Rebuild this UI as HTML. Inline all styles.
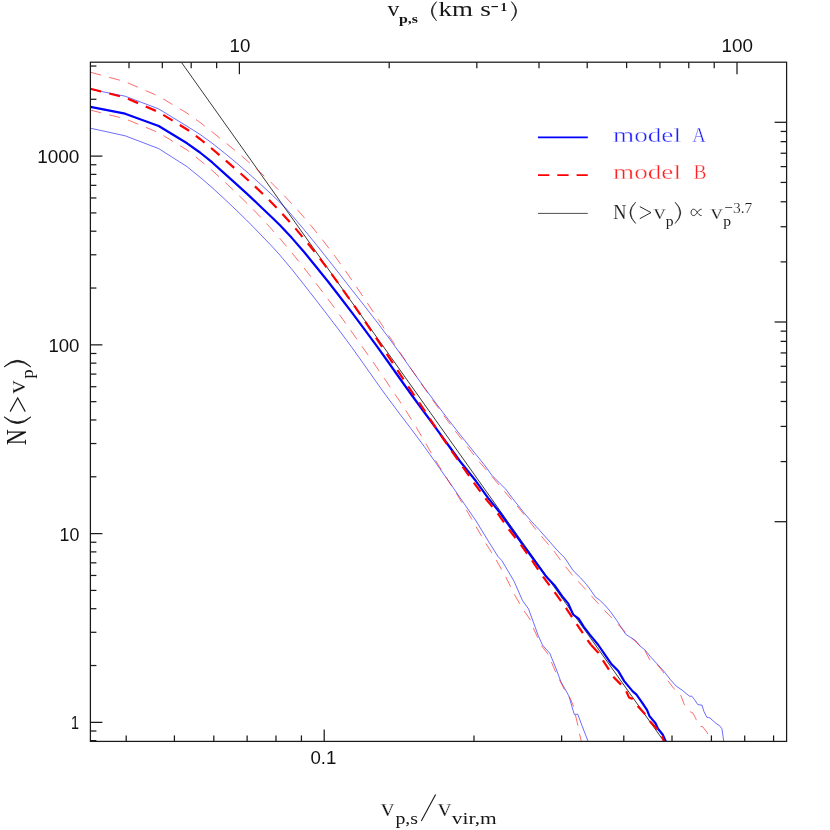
<!DOCTYPE html>
<html lang="en">
<head>
<meta charset="utf-8">
<title>N(&gt;v_p) velocity function</title>
<style>
html,body{margin:0;padding:0;background:#fff;}
body{width:830px;height:830px;overflow:hidden;font-family:"Liberation Sans",sans-serif;}
svg text{white-space:pre;}
svg{will-change:transform;}
</style>
</head>
<body>
<svg width="830" height="830" viewBox="0 0 830 830" style="display:block">
<clipPath id="c"><rect x="90.4" y="62.2" width="696.20" height="679.20"/></clipPath>
<g clip-path="url(#c)">
<line x1="181.30" y1="62.20" x2="663.80" y2="741.20" stroke="#222" stroke-width="0.9" />
<polyline points="90.4,128.2 125.1,135.8 158.7,148.6 187.1,166.7 200.0,177.2 212.0,187.5 224.1,198.6 236.1,210.0 246.4,220.0 254.2,227.9 272.3,246.7 280.0,255.2 292.0,269.5 304.1,284.8 316.1,300.2 324.0,310.4 340.0,331.4 352.0,347.6 364.1,364.6 376.1,381.7 385.2,394.4 400.0,414.3 412.0,430.0 424.1,446.3 436.1,463.2 440.0,468.8 452.0,486.0 464.1,503.6 476.1,521.0 488.2,540.9 497.8,556.2 502.0,560.8 514.1,581.3 522.5,600.6 528.6,609.0 533.4,622.3 538.2,635.5 542.6,645.2 549.8,653.3 556.1,668.7 560.7,681.3 568.8,695.8 570.0,699.8 574.2,714.3 577.8,714.3 582.0,725.7 588.1,741.4" fill="none" stroke="#0000ff" stroke-width="0.58" stroke-linejoin="round" />
<polyline points="90.4,89.3 125.1,96.2 158.7,108.9 187.1,126.3 200.0,134.4 212.0,143.1 224.1,152.7 236.1,162.6 248.2,173.1 260.2,183.9 272.3,195.1 284.3,206.7 287.8,210.4 304.1,229.7 316.1,244.4 328.2,259.6 340.2,274.9 352.3,290.4 364.1,305.4 376.1,320.9 388.2,337.0 400.2,353.6 412.3,370.7 424.2,387.4 436.1,403.5 448.2,419.4 460.2,434.8 472.3,449.9 484.2,464.6 491.8,475.2 500.2,483.7 505.7,489.1 512.3,498.1 524.3,513.2 531.6,521.6 540.0,530.7 550.4,542.5 556.9,550.0 564.7,557.8 573.1,570.5 580.4,577.7 586.5,584.5 590.0,589.2 595.5,597.2 599.5,600.0 604.6,604.8 610.4,611.5 617.6,621.7 625.7,634.3 635.7,640.7 640.0,646.0 644.8,649.8 650.2,656.4 656.9,663.7 664.1,671.5 670.1,679.3 676.1,686.0 682.2,690.2 689.4,696.2 691.8,696.2 694.2,699.2 697.8,704.6 702.0,705.2 703.9,711.3 706.9,717.3 709.9,717.9 715.9,723.3 719.5,725.7 721.9,728.7 723.1,736.6 723.7,741.4" fill="none" stroke="#0000ff" stroke-width="0.58" stroke-linejoin="round" />
<polyline points="90.4,110.1 125.1,118.8 158.7,132.7 187.1,150.0 200.0,160.4 210.8,169.2 225.1,182.3 239.2,195.7 253.0,209.3 260.8,217.4 272.3,229.9 280.0,238.6 291.8,252.7 304.1,268.0 315.9,283.2 327.6,298.6 334.2,307.4 340.0,315.4 350.6,330.3 361.7,346.0 373.1,362.1 384.3,378.4 394.2,393.2 400.0,401.7 406.0,410.8 416.3,427.3 425.5,443.1 435.2,459.8 440.0,467.7 446.0,477.2 456.3,493.3 466.3,509.8 475.9,526.4 485.8,543.3 490.0,550.0 496.3,560.2 505.7,576.7 514.1,594.0 524.0,610.8 530.4,619.9 533.1,627.7 537.6,637.3 541.2,645.2 548.0,654.2 555.8,672.3 565.2,691.3 570.0,698.0 573.6,706.4 575.4,714.9 577.8,725.1 579.4,733.6 581.4,741.4" fill="none" stroke="#ff0000" stroke-width="0.58" stroke-dasharray="11.05 8.38" stroke-linejoin="round" />
<polyline points="90.4,72.2 125.1,81.7 158.7,96.2 187.1,113.2 200.0,122.4 211.1,131.1 226.3,143.3 241.2,155.6 256.0,168.5 270.5,181.9 284.1,195.5 297.5,209.9 310.1,224.5 322.2,239.5 334.2,255.2 345.4,270.8 356.1,286.3 367.3,302.9 378.3,319.5 388.4,334.9 399.3,351.4 410.1,367.4 421.2,383.6 431.9,398.9 443.6,415.3 454.8,430.4 466.9,446.0 478.9,461.3 491.6,476.1 504.5,491.5 517.1,506.0 529.2,521.0 535.8,529.5 553.9,551.0 560.1,559.6 565.3,566.3 571.9,574.7 578.0,581.1 585.4,589.2 595.0,600.0 604.6,610.6 610.4,616.3 623.9,630.7 639.3,645.2 644.8,650.4" fill="none" stroke="#ff0000" stroke-width="0.58" stroke-dasharray="11.05 8.38" stroke-linejoin="round" />
<polyline points="644.8,650.4 649.6,659.5 656.9,664.3 662.9,671.5 667.1,679.7 673.7,688.4 680.4,694.2 684.0,704.0 688.8,711.0 693.0,713.1 695.7,718.5 699.0,726.3 702.7,726.7 706.9,732.3 711.1,741.4" fill="none" stroke="#ff0000" stroke-width="0.58" stroke-dasharray="11.05 8.38" stroke-linejoin="round" />
<polyline points="90.4,106.9 125.1,113.7 158.7,126.0 187.1,143.3 200.0,152.5 212.0,162.2 224.1,173.1 236.1,183.9 248.2,194.9 260.2,206.2 272.3,217.7 280.0,225.3 292.0,238.1 304.1,252.0 316.1,266.7 328.2,281.8 340.2,297.2 352.0,312.6 364.1,328.8 376.1,345.2 388.2,362.0 400.2,379.0 412.0,395.5 424.1,412.0 436.1,428.4 448.2,445.0 460.2,461.5 476.1,481.3 488.2,498.1 500.2,513.0 512.3,530.1 524.3,546.9 526.7,550.0 538.2,565.7 546.6,577.1 555.1,586.1 562.3,596.4 568.3,603.6 573.1,614.5 578.6,618.7 584.0,627.1 590.0,634.9 598.3,645.0 604.9,654.6 611.6,664.3 618.2,670.9 624.2,681.1 632.7,691.4 636.3,694.4 642.3,702.8 647.1,710.1 649.5,716.1 655.5,723.3 658.0,728.7 662.8,734.8 665.8,741.4" fill="none" stroke="#0000ff" stroke-width="2.2" stroke-linejoin="round" />
<polyline points="90.4,88.8 125.1,97.5 158.7,112.1 187.1,129.5 200.0,139.0 211.1,148.0 225.9,160.7 240.7,173.5 255.2,186.6 269.3,200.2 282.9,214.4 295.4,228.4 308.0,243.5 320.0,258.7 331.6,274.1 342.9,289.7 354.2,305.7 365.3,321.8 376.1,337.8 386.7,353.9 397.2,369.9 408.2,386.4 419.3,402.9 429.9,418.8 440.4,434.6 451.2,450.4 462.8,466.8 474.0,482.8 485.5,498.5 497.6,513.2 508.9,529.5 520.7,544.5 532.0,560.4 543.0,576.7 554.5,591.9 565.9,607.8 576.7,624.1 587.3,639.8 591.1,645.0" fill="none" stroke="#ff0000" stroke-width="2.2" stroke-dasharray="11.05 8.38" stroke-linejoin="round" />
<polyline points="591.1,645.0 598.3,652.8 603.1,660.7 608.6,669.1 613.1,676.6 621.2,684.8 626.6,692.0 629.0,697.4 632.7,699.0 638.1,706.4 645.3,714.3 650.1,721.5 657.3,729.3 662.2,736.6 664.0,741.4" fill="none" stroke="#ff0000" stroke-width="2.2" stroke-dasharray="11.05 8.38" stroke-linejoin="round" />
</g>
<rect x="90.4" y="62.2" width="696.20" height="679.20" fill="none" stroke="#1a1a1a" stroke-width="1.25"/>
<line x1="129.01" y1="62.20" x2="129.01" y2="68.20" stroke="#1a1a1a" stroke-width="1.25" />
<line x1="162.32" y1="62.20" x2="162.32" y2="68.20" stroke="#1a1a1a" stroke-width="1.25" />
<line x1="191.18" y1="62.20" x2="191.18" y2="68.20" stroke="#1a1a1a" stroke-width="1.25" />
<line x1="216.63" y1="62.20" x2="216.63" y2="68.20" stroke="#1a1a1a" stroke-width="1.25" />
<line x1="239.40" y1="62.20" x2="239.40" y2="74.20" stroke="#1a1a1a" stroke-width="1.25" />
<line x1="389.19" y1="62.20" x2="389.19" y2="68.20" stroke="#1a1a1a" stroke-width="1.25" />
<line x1="476.82" y1="62.20" x2="476.82" y2="68.20" stroke="#1a1a1a" stroke-width="1.25" />
<line x1="538.99" y1="62.20" x2="538.99" y2="68.20" stroke="#1a1a1a" stroke-width="1.25" />
<line x1="587.21" y1="62.20" x2="587.21" y2="68.20" stroke="#1a1a1a" stroke-width="1.25" />
<line x1="626.61" y1="62.20" x2="626.61" y2="68.20" stroke="#1a1a1a" stroke-width="1.25" />
<line x1="659.92" y1="62.20" x2="659.92" y2="68.20" stroke="#1a1a1a" stroke-width="1.25" />
<line x1="688.78" y1="62.20" x2="688.78" y2="68.20" stroke="#1a1a1a" stroke-width="1.25" />
<line x1="714.23" y1="62.20" x2="714.23" y2="68.20" stroke="#1a1a1a" stroke-width="1.25" />
<line x1="737.00" y1="62.20" x2="737.00" y2="74.20" stroke="#1a1a1a" stroke-width="1.25" />
<line x1="126.19" y1="741.40" x2="126.19" y2="735.40" stroke="#1a1a1a" stroke-width="1.25" />
<line x1="174.41" y1="741.40" x2="174.41" y2="735.40" stroke="#1a1a1a" stroke-width="1.25" />
<line x1="213.81" y1="741.40" x2="213.81" y2="735.40" stroke="#1a1a1a" stroke-width="1.25" />
<line x1="247.12" y1="741.40" x2="247.12" y2="735.40" stroke="#1a1a1a" stroke-width="1.25" />
<line x1="275.98" y1="741.40" x2="275.98" y2="735.40" stroke="#1a1a1a" stroke-width="1.25" />
<line x1="301.43" y1="741.40" x2="301.43" y2="735.40" stroke="#1a1a1a" stroke-width="1.25" />
<line x1="324.20" y1="741.40" x2="324.20" y2="729.40" stroke="#1a1a1a" stroke-width="1.25" />
<line x1="473.99" y1="741.40" x2="473.99" y2="735.40" stroke="#1a1a1a" stroke-width="1.25" />
<line x1="561.62" y1="741.40" x2="561.62" y2="735.40" stroke="#1a1a1a" stroke-width="1.25" />
<line x1="623.79" y1="741.40" x2="623.79" y2="735.40" stroke="#1a1a1a" stroke-width="1.25" />
<line x1="672.01" y1="741.40" x2="672.01" y2="735.40" stroke="#1a1a1a" stroke-width="1.25" />
<line x1="711.41" y1="741.40" x2="711.41" y2="735.40" stroke="#1a1a1a" stroke-width="1.25" />
<line x1="744.72" y1="741.40" x2="744.72" y2="735.40" stroke="#1a1a1a" stroke-width="1.25" />
<line x1="773.58" y1="741.40" x2="773.58" y2="735.40" stroke="#1a1a1a" stroke-width="1.25" />
<line x1="90.40" y1="740.64" x2="96.40" y2="740.64" stroke="#1a1a1a" stroke-width="1.25" />
<line x1="90.40" y1="730.99" x2="96.40" y2="730.99" stroke="#1a1a1a" stroke-width="1.25" />
<line x1="90.40" y1="722.35" x2="102.40" y2="722.35" stroke="#1a1a1a" stroke-width="1.25" />
<line x1="90.40" y1="665.53" x2="96.40" y2="665.53" stroke="#1a1a1a" stroke-width="1.25" />
<line x1="90.40" y1="632.29" x2="96.40" y2="632.29" stroke="#1a1a1a" stroke-width="1.25" />
<line x1="90.40" y1="608.71" x2="96.40" y2="608.71" stroke="#1a1a1a" stroke-width="1.25" />
<line x1="90.40" y1="590.42" x2="96.40" y2="590.42" stroke="#1a1a1a" stroke-width="1.25" />
<line x1="90.40" y1="575.47" x2="96.40" y2="575.47" stroke="#1a1a1a" stroke-width="1.25" />
<line x1="90.40" y1="562.84" x2="96.40" y2="562.84" stroke="#1a1a1a" stroke-width="1.25" />
<line x1="90.40" y1="551.89" x2="96.40" y2="551.89" stroke="#1a1a1a" stroke-width="1.25" />
<line x1="90.40" y1="542.24" x2="96.40" y2="542.24" stroke="#1a1a1a" stroke-width="1.25" />
<line x1="90.40" y1="533.60" x2="102.40" y2="533.60" stroke="#1a1a1a" stroke-width="1.25" />
<line x1="90.40" y1="476.78" x2="96.40" y2="476.78" stroke="#1a1a1a" stroke-width="1.25" />
<line x1="90.40" y1="443.54" x2="96.40" y2="443.54" stroke="#1a1a1a" stroke-width="1.25" />
<line x1="90.40" y1="419.96" x2="96.40" y2="419.96" stroke="#1a1a1a" stroke-width="1.25" />
<line x1="90.40" y1="401.67" x2="96.40" y2="401.67" stroke="#1a1a1a" stroke-width="1.25" />
<line x1="90.40" y1="386.72" x2="96.40" y2="386.72" stroke="#1a1a1a" stroke-width="1.25" />
<line x1="90.40" y1="374.09" x2="96.40" y2="374.09" stroke="#1a1a1a" stroke-width="1.25" />
<line x1="90.40" y1="363.14" x2="96.40" y2="363.14" stroke="#1a1a1a" stroke-width="1.25" />
<line x1="90.40" y1="353.49" x2="96.40" y2="353.49" stroke="#1a1a1a" stroke-width="1.25" />
<line x1="90.40" y1="344.85" x2="102.40" y2="344.85" stroke="#1a1a1a" stroke-width="1.25" />
<line x1="90.40" y1="288.03" x2="96.40" y2="288.03" stroke="#1a1a1a" stroke-width="1.25" />
<line x1="90.40" y1="254.79" x2="96.40" y2="254.79" stroke="#1a1a1a" stroke-width="1.25" />
<line x1="90.40" y1="231.21" x2="96.40" y2="231.21" stroke="#1a1a1a" stroke-width="1.25" />
<line x1="90.40" y1="212.92" x2="96.40" y2="212.92" stroke="#1a1a1a" stroke-width="1.25" />
<line x1="90.40" y1="197.97" x2="96.40" y2="197.97" stroke="#1a1a1a" stroke-width="1.25" />
<line x1="90.40" y1="185.34" x2="96.40" y2="185.34" stroke="#1a1a1a" stroke-width="1.25" />
<line x1="90.40" y1="174.39" x2="96.40" y2="174.39" stroke="#1a1a1a" stroke-width="1.25" />
<line x1="90.40" y1="164.74" x2="96.40" y2="164.74" stroke="#1a1a1a" stroke-width="1.25" />
<line x1="90.40" y1="156.10" x2="102.40" y2="156.10" stroke="#1a1a1a" stroke-width="1.25" />
<line x1="90.40" y1="99.28" x2="96.40" y2="99.28" stroke="#1a1a1a" stroke-width="1.25" />
<line x1="90.40" y1="66.04" x2="96.40" y2="66.04" stroke="#1a1a1a" stroke-width="1.25" />
<line x1="786.60" y1="521.70" x2="774.60" y2="521.70" stroke="#1a1a1a" stroke-width="1.25" />
<line x1="786.60" y1="461.58" x2="780.60" y2="461.58" stroke="#1a1a1a" stroke-width="1.25" />
<line x1="786.60" y1="426.42" x2="780.60" y2="426.42" stroke="#1a1a1a" stroke-width="1.25" />
<line x1="786.60" y1="401.47" x2="780.60" y2="401.47" stroke="#1a1a1a" stroke-width="1.25" />
<line x1="786.60" y1="382.12" x2="780.60" y2="382.12" stroke="#1a1a1a" stroke-width="1.25" />
<line x1="786.60" y1="366.30" x2="780.60" y2="366.30" stroke="#1a1a1a" stroke-width="1.25" />
<line x1="786.60" y1="352.93" x2="780.60" y2="352.93" stroke="#1a1a1a" stroke-width="1.25" />
<line x1="786.60" y1="341.35" x2="780.60" y2="341.35" stroke="#1a1a1a" stroke-width="1.25" />
<line x1="786.60" y1="331.14" x2="780.60" y2="331.14" stroke="#1a1a1a" stroke-width="1.25" />
<line x1="786.60" y1="322.00" x2="774.60" y2="322.00" stroke="#1a1a1a" stroke-width="1.25" />
<line x1="786.60" y1="261.88" x2="780.60" y2="261.88" stroke="#1a1a1a" stroke-width="1.25" />
<line x1="786.60" y1="226.72" x2="780.60" y2="226.72" stroke="#1a1a1a" stroke-width="1.25" />
<line x1="786.60" y1="201.77" x2="780.60" y2="201.77" stroke="#1a1a1a" stroke-width="1.25" />
<line x1="786.60" y1="182.42" x2="780.60" y2="182.42" stroke="#1a1a1a" stroke-width="1.25" />
<line x1="786.60" y1="166.60" x2="780.60" y2="166.60" stroke="#1a1a1a" stroke-width="1.25" />
<line x1="786.60" y1="153.23" x2="780.60" y2="153.23" stroke="#1a1a1a" stroke-width="1.25" />
<line x1="786.60" y1="141.65" x2="780.60" y2="141.65" stroke="#1a1a1a" stroke-width="1.25" />
<line x1="786.60" y1="131.44" x2="780.60" y2="131.44" stroke="#1a1a1a" stroke-width="1.25" />
<line x1="786.60" y1="122.30" x2="774.60" y2="122.30" stroke="#1a1a1a" stroke-width="1.25" />
<text x="37.20" y="163.00" font-family="'Liberation Sans', serif" font-size="17.6" fill="#111" text-anchor="start" font-weight="normal" textLength="42.20" lengthAdjust="spacingAndGlyphs" >1000</text>
<text x="48.40" y="352.00" font-family="'Liberation Sans', serif" font-size="17.6" fill="#111" text-anchor="start" font-weight="normal" textLength="31.00" lengthAdjust="spacingAndGlyphs" >100</text>
<text x="59.60" y="540.80" font-family="'Liberation Sans', serif" font-size="17.6" fill="#111" text-anchor="start" font-weight="normal" textLength="19.80" lengthAdjust="spacingAndGlyphs" >10</text>
<text x="70.90" y="729.40" font-family="'Liberation Sans', serif" font-size="17.6" fill="#111" text-anchor="start" font-weight="normal" textLength="8.00" lengthAdjust="spacingAndGlyphs" >1</text>
<text x="229.60" y="52.20" font-family="'Liberation Sans', serif" font-size="17.6" fill="#111" text-anchor="start" font-weight="normal" textLength="20.80" lengthAdjust="spacingAndGlyphs" >10</text>
<text x="721.60" y="52.00" font-family="'Liberation Sans', serif" font-size="17.6" fill="#111" text-anchor="start" font-weight="normal" textLength="31.40" lengthAdjust="spacingAndGlyphs" >100</text>
<text x="310.40" y="764.20" font-family="'Liberation Sans', serif" font-size="17.6" fill="#111" text-anchor="start" font-weight="normal" textLength="26.00" lengthAdjust="spacingAndGlyphs" >0.1</text>
<line x1="538.00" y1="137.35" x2="587.80" y2="137.35" stroke="#0000ff" stroke-width="1.75" />
<line x1="538.00" y1="175.00" x2="587.80" y2="175.00" stroke="#ff0000" stroke-width="1.75" stroke-dasharray="11.3 8"/>
<line x1="538.00" y1="213.40" x2="587.80" y2="213.40" stroke="#3a3a3a" stroke-width="0.9" />
<text x="613.00" y="142.00" font-family="'Liberation Serif', serif" font-size="21.8" fill="#2020ff" text-anchor="start" font-weight="normal" textLength="68.00" lengthAdjust="spacingAndGlyphs"  stroke="#fff" stroke-width="0.38">model</text>
<text x="692.20" y="142.00" font-family="'Liberation Serif', serif" font-size="21.8" fill="#2020ff" text-anchor="start" font-weight="normal" textLength="13.60" lengthAdjust="spacingAndGlyphs"  stroke="#fff" stroke-width="0.38">A</text>
<text x="613.00" y="179.30" font-family="'Liberation Serif', serif" font-size="21.8" fill="#ff2020" text-anchor="start" font-weight="normal" textLength="68.00" lengthAdjust="spacingAndGlyphs"  stroke="#fff" stroke-width="0.38">model</text>
<text x="693.60" y="179.30" font-family="'Liberation Serif', serif" font-size="21.8" fill="#ff2020" text-anchor="start" font-weight="normal" textLength="13.00" lengthAdjust="spacingAndGlyphs"  stroke="#fff" stroke-width="0.38">B</text>
<text x="613.20" y="218.90" font-family="'Liberation Serif', serif" font-size="21.8" fill="#1c1c1c" text-anchor="start" font-weight="normal" textLength="13.20" lengthAdjust="spacingAndGlyphs"  stroke="#fff" stroke-width="0.15">N</text>
<path d="M635.70,202.10 Q624.10,212.80 635.70,223.50 Q625.90,212.80 635.70,202.10 Z" fill="#1c1c1c" stroke="#1c1c1c" stroke-width="0.52" stroke-linejoin="round"/>
<path d="M639.8,206.6 L651.0,212.6 L639.8,218.7" fill="none" stroke="#1c1c1c" stroke-width="0.95"/>
<text x="653.60" y="218.90" font-family="'Liberation Serif', serif" font-size="21" fill="#1c1c1c" text-anchor="start" font-weight="normal" textLength="12.20" lengthAdjust="spacingAndGlyphs"  stroke="#fff" stroke-width="0.3">v</text>
<text x="665.80" y="226.20" font-family="'Liberation Serif', serif" font-size="14.5" fill="#1c1c1c" text-anchor="start" font-weight="normal" textLength="7.80" lengthAdjust="spacingAndGlyphs" >p</text>
<path d="M675.00,202.10 Q686.60,212.80 675.00,223.50 Q684.80,212.80 675.00,202.10 Z" fill="#1c1c1c" stroke="#1c1c1c" stroke-width="0.52" stroke-linejoin="round"/>
<path d="M701.6,209.2 C697.8,209.2 696.6,215.6 693.6,215.6 C691.9,215.6 691.1,214.1 691.1,212.4 C691.1,210.7 691.9,209.2 693.6,209.2 C696.6,209.2 697.8,215.6 701.6,215.6" fill="none" stroke="#1c1c1c" stroke-width="0.95"/>
<text x="710.40" y="218.90" font-family="'Liberation Serif', serif" font-size="21" fill="#1c1c1c" text-anchor="start" font-weight="normal" textLength="12.20" lengthAdjust="spacingAndGlyphs"  stroke="#fff" stroke-width="0.3">v</text>
<text x="723.20" y="226.20" font-family="'Liberation Serif', serif" font-size="14.5" fill="#1c1c1c" text-anchor="start" font-weight="normal" textLength="7.80" lengthAdjust="spacingAndGlyphs" >p</text>
<text x="724.20" y="212.70" font-family="'Liberation Serif', serif" font-size="15.5" fill="#1c1c1c" text-anchor="start" font-weight="normal" textLength="28.20" lengthAdjust="spacingAndGlyphs"  stroke="#fff" stroke-width="0.2">−3.7</text>
<text x="387.40" y="15.90" font-family="'Liberation Serif', serif" font-size="21" fill="#161616" text-anchor="start" font-weight="normal" textLength="11.80" lengthAdjust="spacingAndGlyphs" >v</text>
<text x="399.00" y="22.70" font-family="'Liberation Serif', serif" font-size="12.5" fill="#161616" text-anchor="start" font-weight="bold" textLength="19.00" lengthAdjust="spacingAndGlyphs" >p,s</text>
<path d="M436.50,1.60 Q426.10,11.20 436.50,20.80 Q428.29,11.20 436.50,1.60 Z" fill="#161616" stroke="#161616" stroke-width="0.63" stroke-linejoin="round"/>
<text x="438.60" y="15.90" font-family="'Liberation Serif', serif" font-size="21" fill="#161616" text-anchor="start" font-weight="normal" textLength="34.40" lengthAdjust="spacingAndGlyphs" >km</text>
<text x="480.20" y="15.90" font-family="'Liberation Serif', serif" font-size="21" fill="#161616" text-anchor="start" font-weight="normal" textLength="10.60" lengthAdjust="spacingAndGlyphs" >s</text>
<line x1="491.40" y1="6.60" x2="498.00" y2="6.60" stroke="#161616" stroke-width="1.15" />
<text x="500.60" y="10.70" font-family="'Liberation Serif', serif" font-size="11.5" fill="#161616" text-anchor="start" font-weight="bold" textLength="6.60" lengthAdjust="spacingAndGlyphs" >1</text>
<path d="M511.40,1.60 Q521.80,11.20 511.40,20.80 Q519.62,11.20 511.40,1.60 Z" fill="#161616" stroke="#161616" stroke-width="0.63" stroke-linejoin="round"/>
<text x="380.80" y="815.50" font-family="'Liberation Serif', serif" font-size="24.5" fill="#161616" text-anchor="start" font-weight="normal" textLength="13.60" lengthAdjust="spacingAndGlyphs"  stroke="#fff" stroke-width="0.3">v</text>
<text x="395.40" y="823.60" font-family="'Liberation Serif', serif" font-size="17.5" fill="#161616" text-anchor="start" font-weight="normal" textLength="22.60" lengthAdjust="spacingAndGlyphs" >p,s</text>
<line x1="421.30" y1="820.90" x2="435.60" y2="794.60" stroke="#161616" stroke-width="1.1" />
<text x="437.80" y="815.50" font-family="'Liberation Serif', serif" font-size="24.5" fill="#161616" text-anchor="start" font-weight="normal" textLength="13.60" lengthAdjust="spacingAndGlyphs"  stroke="#fff" stroke-width="0.3">v</text>
<text x="451.80" y="823.60" font-family="'Liberation Serif', serif" font-size="17.5" fill="#161616" text-anchor="start" font-weight="normal" textLength="45.00" lengthAdjust="spacingAndGlyphs" >vir,m</text>
<g transform="translate(26.1,444.8) rotate(-90)">
<text x="-0.40" y="0.00" font-family="'Liberation Serif', serif" font-size="29" fill="#161616" text-anchor="start" font-weight="normal" textLength="16.00" lengthAdjust="spacingAndGlyphs" >N</text>
<path d="M27.90,-22.00 Q14.70,-8.60 27.90,4.80 Q17.55,-8.60 27.90,-22.00 Z" fill="#161616" stroke="#161616" stroke-width="0.83" stroke-linejoin="round"/>
<path d="M33.2,-16.0 L46.8,-8.4 L33.2,-0.8" fill="none" stroke="#161616" stroke-width="1.15"/>
<text x="50.80" y="-1.50" font-family="'Liberation Serif', serif" font-size="25.5" fill="#161616" text-anchor="start" font-weight="normal" textLength="13.80" lengthAdjust="spacingAndGlyphs"  stroke="#fff" stroke-width="0.25">v</text>
<text x="66.00" y="7.00" font-family="'Liberation Serif', serif" font-size="17" fill="#161616" text-anchor="start" font-weight="normal" textLength="9.40" lengthAdjust="spacingAndGlyphs" >p</text>
<path d="M77.90,-22.00 Q91.10,-8.60 77.90,4.80 Q88.25,-8.60 77.90,-22.00 Z" fill="#161616" stroke="#161616" stroke-width="0.83" stroke-linejoin="round"/>
</g>
</svg>
</body>
</html>
